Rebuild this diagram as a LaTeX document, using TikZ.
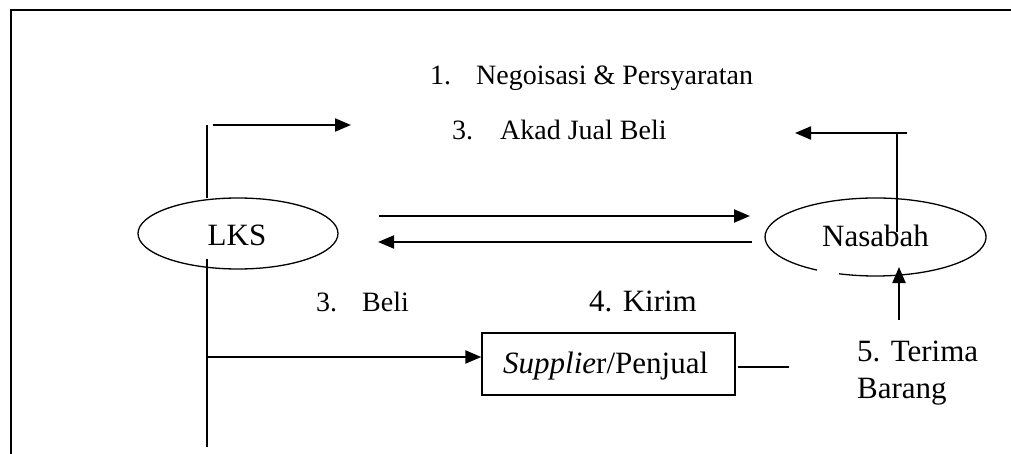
\documentclass[tikz,border=0pt]{standalone}
\usepackage{fontspec}
\setmainfont{Liberation Serif}
\usetikzlibrary{arrows.meta,shapes.geometric}
\begin{document}
\begin{tikzpicture}[x=1pt,y=1pt,
  conn/.style={line width=2pt},
  arr/.style={conn,-{Triangle[length=16pt,width=13pt]}},
  big/.style={font=\fontsize{31}{37}\selectfont,inner sep=0pt,anchor=base west},
  small/.style={font=\fontsize{28}{33}\selectfont,inner sep=0pt,anchor=base west},
  oval/.style={draw,line width=1.3pt,ellipse,inner sep=0pt}]
\useasboundingbox (0,0) rectangle (1011,-454);
\begin{scope}
\clip (0,0) rectangle (1011,-454);
\draw[line width=2pt] (11,-470) -- (11,-10) -- (1030,-10);
\end{scope}
% LKS
\node[oval,minimum width=200pt,minimum height=71pt] (lks) at (238,-233.5) {};
\node[big,anchor=base] (lkst) at (237,-246) {LKS};
% Nasabah (ellipse with a gap)
\node[inner sep=0pt,minimum width=221pt,minimum height=78pt] (nas) at (875.5,-237) {};
\draw[line width=1.3pt] (839,-273.8) arc[start angle=250.7,end angle=598,x radius=110.5,y radius=39];
\node[big,anchor=base west] (nast) at (822,-247) {Nasabah};
% Supplier
\node[draw,line width=1.3pt,minimum width=253pt,minimum height=62pt,inner sep=0pt] (sup) at (608.5,-364) {};
\node[big] (supt) at (503,-373) {\textit{Supplie}r/Penjual};
% texts
\node[small] (n1) at (430,-85) {1.};
\node[small] (t1) at (476,-85) {Negoisasi \& Persyaratan};
\node[small] (n3) at (452,-140) {3.};
\node[small] (t3) at (500,-140) {Akad Jual Beli};
\node[small] (n3b) at (316,-311) {3.};
\node[small] (t3b) at (362,-311) {Beli};
\node[big] (t4) at (589,-311) {4. Kirim};
\node[big] (t5) at (857,-361) {5. Terima};
\node[big] (t5b) at (857,-398) {Barang};
% coordinates
\coordinate (lkstop) at (207,-198);
\coordinate (lksup) at (207,-125);
\coordinate (a1s) at (213,-125);
\coordinate (a1e) at (351,-125);
\coordinate (lksbot) at (207,-259);
\coordinate (lksend) at (207,-447);
\coordinate (lksmid) at (207,-357);
\coordinate (nasin) at (897,-232);
\coordinate (nastop) at (897,-133);
\coordinate (nasr) at (907,-133);
\coordinate (nase) at (795,-133);
\coordinate (u1) at (379,-216);
\coordinate (u2) at (750,-216);
\coordinate (l1) at (752,-242);
\coordinate (l2) at (378,-242);
\coordinate (supr1) at (738,-367);
\coordinate (supr2) at (789,-367);
\coordinate (upt) at (899,-320);
\coordinate (uph) at (899,-267);
% connectors
\draw[conn] (lkstop) -- (lksup);
\draw[arr] (a1s) -- (a1e);
\draw[conn] (lksbot) -- (lksend);
\draw[arr] (lksmid) -- (sup.west |- lksmid);
\draw[conn] (nasin) -- (nastop);
\draw[arr] (nasr) -- (nase);
\draw[arr] (u1) -- (u2);
\draw[arr] (l1) -- (l2);
\draw[conn] (supr1) -- (supr2);
\draw[arr] (upt) -- (uph);
\end{tikzpicture}
\end{document}
